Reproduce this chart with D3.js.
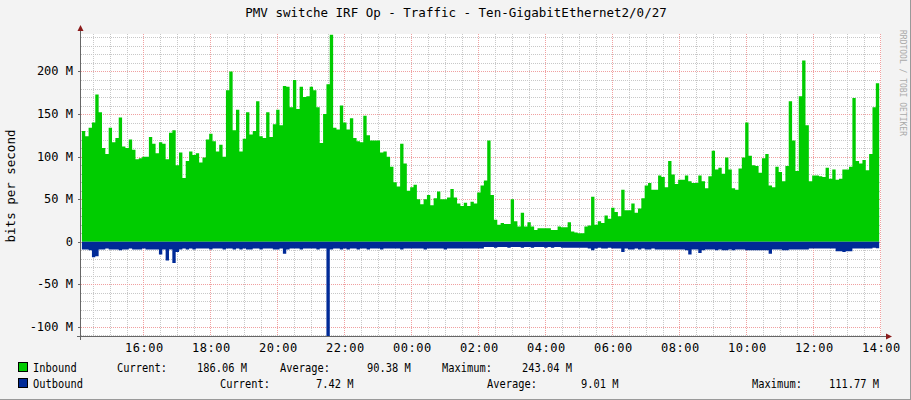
<!DOCTYPE html>
<html><head><meta charset="utf-8">
<script src="https://cdn.jsdelivr.net/npm/d3@7"></script>
<style>body{margin:0;background:#f3f3f3}svg{display:block}text{font-family:"DejaVu Sans Mono",monospace}</style>
</head><body><svg id="c" width="911" height="400"></svg>
<script>
const title = "PMV switche IRF Op - Traffic - Ten-GigabitEthernet2/0/27";
const startTime = new Date(2024,0,1,14,10);
const stepMinutes = 6;
const yTicks = [-100,-50,0,50,100,150,200];
const xTickHours = [16,18,20,22,0,2,4,6,8,10,12,14];
const inbound = [
122,130,124,134,140,173,152,110,103,134,117,122,146,112,110,120,108,97,98,100,100,123,115,104,117,115,97,128,131,90,105,75,95,106,102,104,93,99,120,127,118,106,114,100,178,200,131,155,106,121,152,126,130,165,124,122,152,123,138,155,137,183,182,158,190,156,182,170,171,182,178,158,116,150,185,
243.04,134,132,160,140,132,145,122,118,117,148,125,119,119,119,105,106,100,88,70,65,115,92,60,64,67,50,44,50,55,43,51,59,50,50,52,62,52,45,42,46,42,47,45,58,66,72,119,55,26,20,22,21,21,50,24,18,34,18,23,18,14,16,16,16,16,14,14,18,17,17,23,12,11,10,10,18,19,53,20,24,22,31,27,40,35,30,
61,37,37,45,34,39,51,66,69,61,61,78,76,64,95,79,68,73,73,78,71,69,69,78,71,63,77,107,85,87,80,99,85,63,61,86,99,140,101,90,89,81,98,103,66,64,88,82,71,89,165,119,83,171,213,137,71,78,78,77,76,87,74,85,73,74,85,85,88,169,95,92,96,84,103,158,186.06];
const outbound = [
9,9,9,10,18,17,9,9,8,9,9,9,10,9,9,8,9,9,9,8,9,9,9,9,15,9,22,9,25,12,9,8,9,8,9,8,8,8,8,9,8,8,8,9,8,8,9,8,9,8,9,9,8,8,9,8,8,8,9,9,8,14,9,8,8,8,9,8,8,8,8,9,8,8,111.77,
9,8,8,9,8,9,8,8,9,8,8,9,8,8,8,9,8,8,8,8,8,9,8,8,8,8,8,8,9,8,8,8,8,8,9,8,8,8,8,8,8,8,8,8,8,8,6,6,6,7,6,6,6,7,6,6,6,7,6,6,7,6,6,6,7,6,7,6,6,7,7,7,7,7,7,7,7,8,10,8,7,8,8,7,8,8,8,
12,8,9,9,8,9,8,9,9,8,9,9,9,9,9,9,9,9,9,10,15,9,9,13,10,9,9,9,10,9,10,10,9,10,9,9,9,10,10,10,10,10,10,10,14,9,9,9,10,10,9,9,9,9,9,9,8,8,8,8,8,8,8,8,11,11,12,11,11,8,8,8,8,8,8,7,7.42];
const legendRows = [
 {name:"Inbound", color:"#00cc00", items:[["Current:",117],["186.06 M",197],["Average:",280],["90.38 M",367],["Maximum:",442],["243.04 M",522]]},
 {name:"Outbound", color:"#002a97", items:[["Current:",220],["7.42 M",316],["Average:",487],["9.01 M",581],["Maximum:",752],["111.77 M",829]]}
];

const svg = d3.select("#c");
const L=81,R=881,T=34,B=336;
const y=d3.scaleLinear().domain([-110.6,244]).range([B,T]);
const pxPerHour=33.5;
const x=d3.scaleTime().domain([new Date(+new Date(2024,0,1,16,0) - (143.3-L)/pxPerHour*3600e3), new Date(+new Date(2024,0,1,16,0)+(R-143.3)/pxPerHour*3600e3)]).range([L,R]);
const times=inbound.map((d,i)=>new Date(+startTime+i*stepMinutes*60e3));

svg.append("rect").attr("x",0).attr("y",0).attr("width",911).attr("height",400).attr("fill","#f3f3f3");
svg.append("rect").attr("x",L).attr("y",T).attr("width",R-L).attr("height",B-T).attr("fill","#ffffff");
svg.append("line").attr("x1",910.5).attr("x2",910.5).attr("y1",0).attr("y2",400).attr("stroke","#999");
svg.append("line").attr("x1",0).attr("x2",911).attr("y1",399.5).attr("y2",399.5).attr("stroke","#999");

const g=svg.append("g");
for(let v=-110;v<=240;v+=10){ if(v%50===0)continue;
 g.append("line").attr("x1",L).attr("x2",R).attr("y1",Math.round(y(v))+.5).attr("y2",Math.round(y(v))+.5).attr("stroke","#c8c8c8").attr("stroke-dasharray","1,1");}
const minorT=d3.timeMinute.every(30).range(x.domain()[0],x.domain()[1]);
minorT.forEach(t=>{ if(t.getMinutes()===0&&t.getHours()%2===0)return;
 g.append("line").attr("x1",Math.round(x(t))+.5).attr("x2",Math.round(x(t))+.5).attr("y1",T).attr("y2",B).attr("stroke","#c8c8c8").attr("stroke-dasharray","1,1");});
yTicks.forEach(v=>{ g.append("line").attr("x1",L).attr("x2",R).attr("y1",Math.round(y(v))+.5).attr("y2",Math.round(y(v))+.5).attr("stroke","#f0a0a0").attr("stroke-dasharray","1,1");});
const majorT=xTickHours.map(h=>new Date(2024,0,h>=16?1:2,h,0));
majorT.forEach(t=>{ g.append("line").attr("x1",Math.round(x(t))+.5).attr("x2",Math.round(x(t))+.5).attr("y1",T).attr("y2",B).attr("stroke","#f0a0a0").attr("stroke-dasharray","1,1");});

const areaIn=d3.area().x((d,i)=>x(times[i])).y0(y(0)).y1(d=>y(d)).curve(d3.curveStepBefore);
svg.append("path").datum(inbound).attr("d",areaIn).attr("fill","#00cc00");
const areaOut=d3.area().x((d,i)=>x(times[i])).y0(y(0)).y1(d=>y(-d)).curve(d3.curveStepBefore);
svg.append("path").datum(outbound).attr("d",areaOut).attr("fill","#002a97");

svg.append("line").attr("x1",L-0.5).attr("x2",L-0.5).attr("y1",B+4).attr("y2",T-4).attr("stroke","#666");
svg.append("line").attr("x1",L-4).attr("x2",R+6).attr("y1",B+0.5).attr("y2",B+0.5).attr("stroke","#666");
svg.append("path").attr("d",`M${L-3.5},${T-3}L${L+2.5},${T-3}L${L-0.5},${T-9}Z`).attr("fill","#8b1a1a");
svg.append("path").attr("d",`M${R+5},${B-2.5}L${R+5},${B+3.5}L${R+11},${B+0.5}Z`).attr("fill","#8b1a1a");
yTicks.forEach(v=>{
 svg.append("line").attr("x1",L-3).attr("x2",L).attr("y1",Math.round(y(v))+.5).attr("y2",Math.round(y(v))+.5).attr("stroke","#666");
 svg.append("text").attr("x",73).attr("y",y(v)+4).attr("text-anchor","end").attr("font-size",12).attr("fill","#000").text(v===0?"0":v+" M");
});
majorT.forEach((t,i)=>{
 svg.append("text").attr("x",x(t)+1).attr("y",352).attr("text-anchor","middle").attr("font-size",12).attr("letter-spacing",0.5).attr("fill","#000").text(String(xTickHours[i]).padStart(2,"0")+":00");
});
svg.append("text").attr("x",456).attr("y",17).attr("text-anchor","middle").attr("font-size",12.5).attr("fill","#000").text(title);
svg.append("text").attr("transform","translate(15,186) rotate(-90)").attr("text-anchor","middle").attr("font-size",12.5).attr("fill","#000").text("bits per second");
svg.append("text").attr("transform","translate(900,30) rotate(90)").attr("font-size",8).attr("fill","#aaa").text("RRDTOOL / TOBI OETIKER");

legendRows.forEach((r,i)=>{
 const yy=372+i*16;
 svg.append("rect").attr("x",18.5).attr("y",yy-9.5).attr("width",9).attr("height",9).attr("fill",r.color).attr("stroke","#000").attr("stroke-width",1);
 svg.append("text").attr("transform",`translate(33,${yy}) scale(0.83,1)`).attr("font-size",12.5).attr("fill","#000").text(r.name);
 r.items.forEach(([s,xx])=>svg.append("text").attr("transform",`translate(${xx},${yy}) scale(0.83,1)`).attr("font-size",12.5).attr("fill","#000").text(s));
});
</script></body></html>
